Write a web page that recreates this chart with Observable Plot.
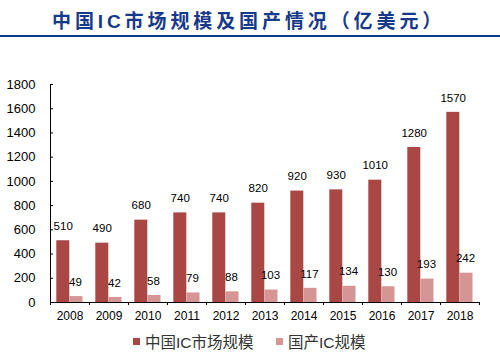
<!DOCTYPE html>
<html><head><meta charset="utf-8">
<script src="https://cdn.jsdelivr.net/npm/d3@7"></script>
<script src="https://cdn.jsdelivr.net/npm/@observablehq/plot@0.6"></script>
<style>
body{margin:0;background:#fff;}
#wrap{position:relative;width:500px;height:362px;overflow:hidden;font-family:"Liberation Sans",Arial,"Noto Sans CJK SC",sans-serif;}
#title{position:absolute;left:52px;top:9px;font-size:19px;font-weight:bold;color:#17398a;letter-spacing:3.9px;white-space:nowrap;line-height:26px;}
#rule{position:absolute;left:0;top:35px;width:500px;height:2px;background:#123a8c;}
#chart{position:absolute;left:0;top:37px;}
.li{position:absolute;top:334px;height:18px;line-height:18px;font-size:15.5px;color:#333;white-space:nowrap;}
.sw{position:absolute;top:338px;width:7px;height:7px;}
</style></head>
<body>
<div id="wrap">
  <div id="title">中国IC市场规模及国产情况（亿美元）</div>
  <div id="rule"></div>
  <div id="chart"></div>
  <div class="sw" id="sw1"></div><div class="li" id="lt1"></div>
  <div class="sw" id="sw2"></div><div class="li" id="lt2"></div>
</div>
<script>
const years = ["2008","2009","2010","2011","2012","2013","2014","2015","2016","2017","2018"];
const market = [510,490,680,740,740,820,920,930,1010,1280,1570];
const domestic = [49,42,58,79,88,103,117,134,130,193,242];
const yTicks = [0,200,400,600,800,1000,1200,1400,1600,1800];
const seriesNames = ["中国IC市场规模","国产IC规模"];
const colors = ["#a94745","#d59594"];

const data = years.map((y,i)=>({year:y, market:market[i], domestic:domestic[i]}));

const plot = Plot.plot({
  width:500, height:292,
  marginLeft:50, marginRight:21, marginTop:47, marginBottom:27,
  style:{fontFamily:'"Liberation Sans",Arial,sans-serif', fontSize:"12px", color:"#000", background:"transparent"},
  x:{domain:years, padding:0, label:null},
  y:{domain:[0,1800], label:null},
  marks:[
    Plot.barY(data,{x:"year", y:"market", fill:colors[0], insetLeft:6.3, insetRight:19.7}),
    Plot.barY(data,{x:"year", y:"domestic", fill:colors[1], insetLeft:19.5, insetRight:6.5}),
    Plot.text(data,{x:"year", y:"market", text:d=>String(d.market), dx:-6.8, dy:-14.5, fontSize:11.5, fill:"#000"}),
    Plot.text(data,{x:"year", y:"domestic", text:d=>String(d.domestic), dx:5.5, dy:-14.5, fontSize:11.5, fill:"#000"}),
    Plot.ruleY([0],{stroke:"#000"}),
    Plot.ruleX([years[0]],{x:d=>d, dx:-19.5, y1:0, y2:1800, stroke:"#000"}),
    Plot.tickY(yTicks,{x:()=>years[0], y:d=>d, insetRight:36, stroke:"#000"}),
    Plot.ruleX(years,{x:d=>d, dx:-19.5, y1:0, y2:0, insetBottom:-3, stroke:"#000"}),
    Plot.ruleX([years[years.length-1]],{x:d=>d, dx:19.5, y1:0, y2:0, insetBottom:-3, stroke:"#000"}),
    Plot.axisX({tickSize:0, tickPadding:9, fontSize:12, label:null}),
    Plot.axisY({ticks:yTicks, tickSize:0, tickPadding:15, tickFormat:d=>String(d), fontSize:13, label:null})
  ]
});
document.getElementById("chart").appendChild(plot);

const sw1=document.getElementById("sw1"), sw2=document.getElementById("sw2");
sw1.style.left="133px"; sw1.style.background=colors[0];
sw2.style.left="276px"; sw2.style.background=colors[1];
const lt1=document.getElementById("lt1"), lt2=document.getElementById("lt2");
lt1.style.left="145px"; lt1.textContent=seriesNames[0];
lt2.style.left="288px"; lt2.textContent=seriesNames[1];
</script>
</body></html>
